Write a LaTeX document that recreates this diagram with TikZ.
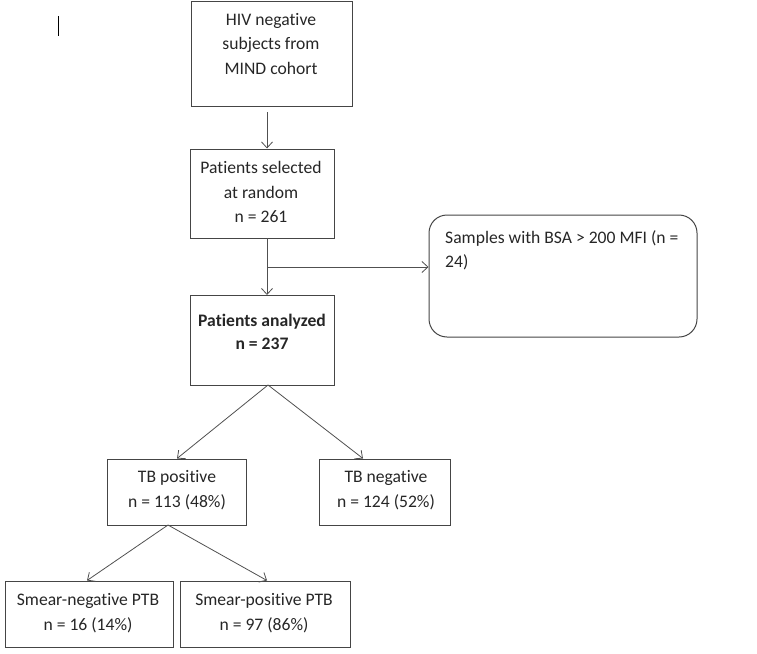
\documentclass[tikz,border=0pt]{standalone}
\usepackage{fontspec}
\setmainfont{Carlito}[RawFeature={-liga}]
\usetikzlibrary{arrows.meta}
\definecolor{boxline}{HTML}{454545}
\definecolor{arrline}{HTML}{505050}
\begin{document}
\begin{tikzpicture}[x=1pt,y=-1pt,
  box/.style={draw=boxline, line width=1pt, rectangle, inner sep=0pt},
  rbox/.style={draw=boxline, line width=1pt, rectangle, rounded corners=18pt, inner sep=0pt},
  txt/.style={align=center, font=\fontsize{17.6}{24.5}\selectfont, text=black!85, inner sep=0pt},
  conn/.style={draw=arrline, line width=0.8pt, -{Straight Barb[length=6pt,width=11pt]}}
]
\useasboundingbox (0,0) rectangle (757,653);
% cursor mark
\draw[line width=1pt] (58,16) -- (58,36);

% boxes
\node[box, minimum width=161pt, minimum height=105pt] (b1) at (271.5,53.5) {};
\node[box, minimum width=144pt, minimum height=89pt] (b2) at (262,193.5) {};
\node[rbox, minimum width=268pt, minimum height=122pt] (ex) at (563,276) {};
\node[box, minimum width=144pt, minimum height=90pt] (b3) at (262,340) {};
\node[box, minimum width=139pt, minimum height=66pt] (tp) at (176.5,492) {};
\node[box, minimum width=131pt, minimum height=66pt] (tn) at (384.5,492) {};
\node[box, minimum width=168pt, minimum height=66pt] (sn) at (89,614) {};
\node[box, minimum width=170pt, minimum height=66pt] (sp) at (265,614) {};

% texts
\node[txt] (t1) at (271,44) {HIV negative\\subjects from\\MIND cohort};
\node[txt] (t2) at (261,192) {Patients selected\\at random\\n = 261};
\node[txt, align=left, anchor=north west] (tex) at (445,230) {Samples with BSA > 200 MFI (n =\\24)};
\node[txt, font=\fontsize{17.6}{23}\selectfont\bfseries] (t3) at (262,332) {Patients analyzed\\n = 237};
\node[txt] (ttp) at (177,490) {TB positive\\n = 113 (48\%)};
\node[txt] (ttn) at (386,490) {TB negative\\n = 124 (52\%)};
\node[txt] (tsn) at (88,613) {Smear-negative PTB\\n = 16 (14\%)};
\node[txt] (tsp) at (264,613) {Smear-positive PTB\\n = 97 (86\%)};

% connectors
\coordinate (a1) at (267,112);
\coordinate (j) at (267,267);
\draw[conn] (a1) -- (267,148.5);
\draw[conn] (267,238) -- (267,295);
\draw[conn] (j) -- (ex.west |- j);
\coordinate (b3b) at (268,385);
\draw[conn] (b3b) -- (177,458.5);
\draw[conn] (b3b) -- (363,458.5);
\coordinate (tpb) at (168,525);
\draw[conn] (tpb) -- (87,580.5);
\draw[conn] (tpb) -- (267,580.5);
\end{tikzpicture}
\end{document}
